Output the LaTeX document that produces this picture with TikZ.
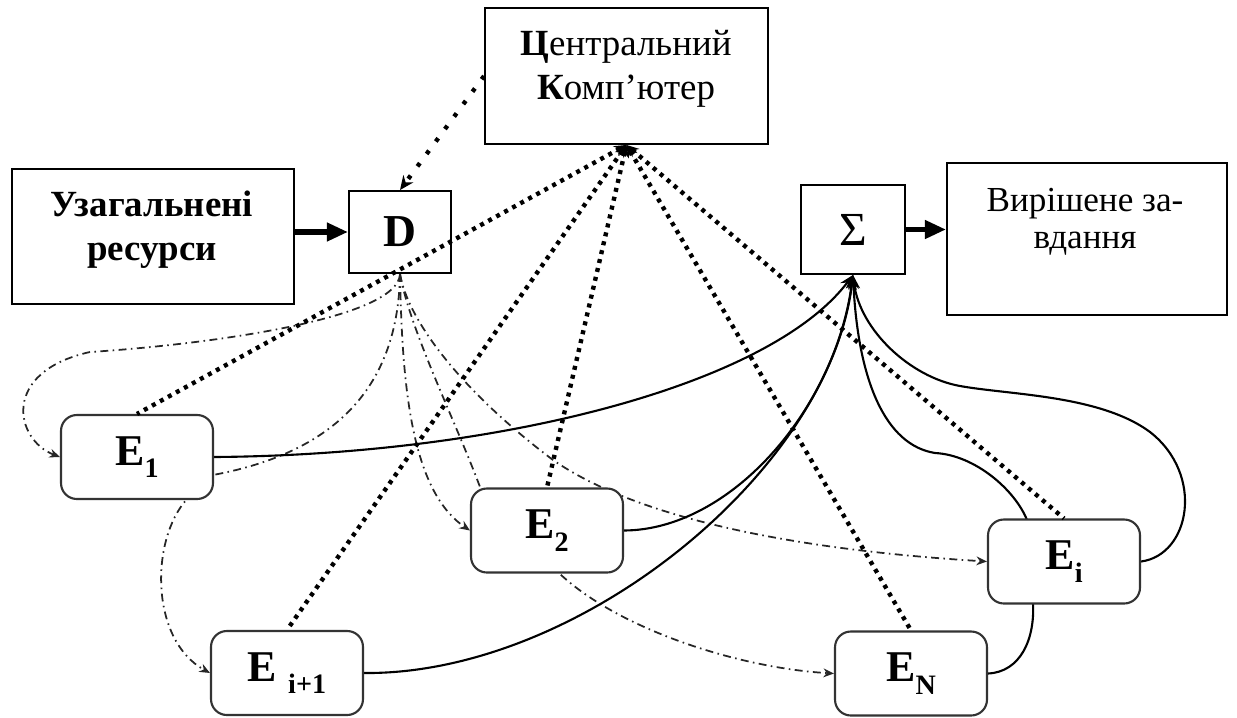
\documentclass[tikz,border=0pt]{standalone}
\usepackage{fontspec}
\setmainfont{Liberation Serif}
\usetikzlibrary{arrows.meta,calc,backgrounds}

% E node caption with a lowered index
\newcommand{\Esub}[1]{E\raisebox{-0.28em}{\fontsize{16}{16}\selectfont #1}}

\begin{document}
\begin{tikzpicture}[x=0.02cm,y=-0.02cm,
  box/.style={draw, line width=1.1pt, fill=white, inner sep=0pt},
  ebox/.style={draw=black!80, line width=1.2pt, fill=white, rounded corners=9pt,
    minimum width=3.04cm, minimum height=1.68cm, inner sep=0pt,
    font=\fontsize{25}{28}\selectfont\bfseries},
  lbl/.style={align=center, inner sep=0pt, font=\fontsize{21}{25}\selectfont},
  fat/.style={line width=3pt, -{Triangle[length=12pt,width=10pt]}},
  ctrl/.style={line width=2.5pt, dash pattern=on 2.3pt off 2.9pt},
  distr/.style={line width=1pt, black!85,
    dash pattern=on 4.5pt off 2.5pt on 0.9pt off 2.5pt,
    -{Stealth[length=6pt,width=5pt]}},
  coll/.style={line width=1.2pt, -{Stealth[length=8pt,width=6pt]}},
]
\useasboundingbox (0,0) rectangle (1237,717);

% upper row
\node[box, minimum width=5.66cm, minimum height=2.72cm] (CK) at (626.5,76) {};
\node[lbl] (CKt) at (626,69) {\textbf{Ц}ентральний\\\textbf{К}омп’ютер};
\node[box, minimum width=5.64cm, minimum height=2.7cm] (UR) at (153,236.5) {};
\node[lbl, font=\fontsize{21}{25}\selectfont\bfseries] (URt) at (152,230) {Узагальнені\\ресурси};
\node[box, minimum width=2.04cm, minimum height=1.64cm,
  font=\fontsize{26}{28}\selectfont\bfseries] (D) at (400,232) {D};
\node[box, minimum width=2.08cm, minimum height=1.78cm,
  font=\fontsize{27}{28}\selectfont] (S) at (853,229.5) {Σ};
\node[box, minimum width=5.6cm, minimum height=3.04cm] (VZ) at (1087,239) {};
\node[lbl, font=\fontsize{20}{21}\selectfont] (VZt) at (1085,222) {Вирішене за-\\вдання};

% executing units
\node[ebox] (E1) at (137,457) {\Esub{1}};
\node[ebox] (E2) at (547,530.5) {\Esub{2}};
\node[ebox] (Ej) at (287,673) {E\hspace{0.25em}\raisebox{-0.28em}{\fontsize{16}{16}\selectfont i+1}};
\node[ebox] (EN) at (911,673.5) {\Esub{N}};
\node[ebox] (Ei) at (1064,561.5) {\Esub{i}};

% main flow
\draw[fat] (UR.east |- D.west) -- (D.west);
\draw[fat] (S.east) -- (VZ.west |- S.east);

\begin{pgfonlayer}{background}
  % distribution of resources from D
  \draw[distr] (D.south) .. controls (398,320) and (200,345) .. (90,352)
    .. controls (0,372) and (15,440) .. (E1.west);
  \draw[distr] (D.south) .. controls (398,400) and (320,455) .. (213,475)
    -- (187,499) .. controls (150,540) and (150,640) .. (Ej.west);
  \draw[distr] (D.south) .. controls (402,380) and (410,490) .. (E2.west);
  \draw[distr] (D.south) .. controls (410,330) and (455,420) .. (480,487)
    -- (560,574) .. controls (620,630) and (740,668) .. (EN.west);
  \draw[distr] (D.south) .. controls (408,320) and (460,390) .. (553,460)
    .. controls (640,520) and (800,550) .. (Ei.west);

  % results collected in the summator
  \draw[coll] (E1.east) .. controls (500,455) and (770,385) .. (S.south);
  \draw[coll] (E2.east) .. controls (730,530) and (835,410) .. (S.south);
  \draw[coll] (Ej.east) .. controls (580,675) and (830,470) .. (S.south);
  \draw[coll] (EN.east) .. controls (1020,672) and (1035,640) .. (1033,603)
    -- (1027,520) .. controls (1015,490) and (975,455) .. (935,453)
    .. controls (885,445) and (858,380) .. (S.south);
  \draw[coll] (Ei.east) .. controls (1190,555) and (1205,475) .. (1150,432)
    .. controls (1100,395) and (1010,395) .. (960,386)
    .. controls (910,377) and (860,330) .. (S.south);
\end{pgfonlayer}

% control links of the central computer
\draw[ctrl, dash pattern=on 2.3pt off 6.5pt, -{Stealth[length=8pt,width=7pt]}] (CK.west) -- (D.north);
\foreach \e in {E1,Ej,E2,EN,Ei}
  \draw[ctrl, {Stealth[length=7pt,width=6pt]}-] (CK.south) -- (\e.north);
\end{tikzpicture}
\end{document}
